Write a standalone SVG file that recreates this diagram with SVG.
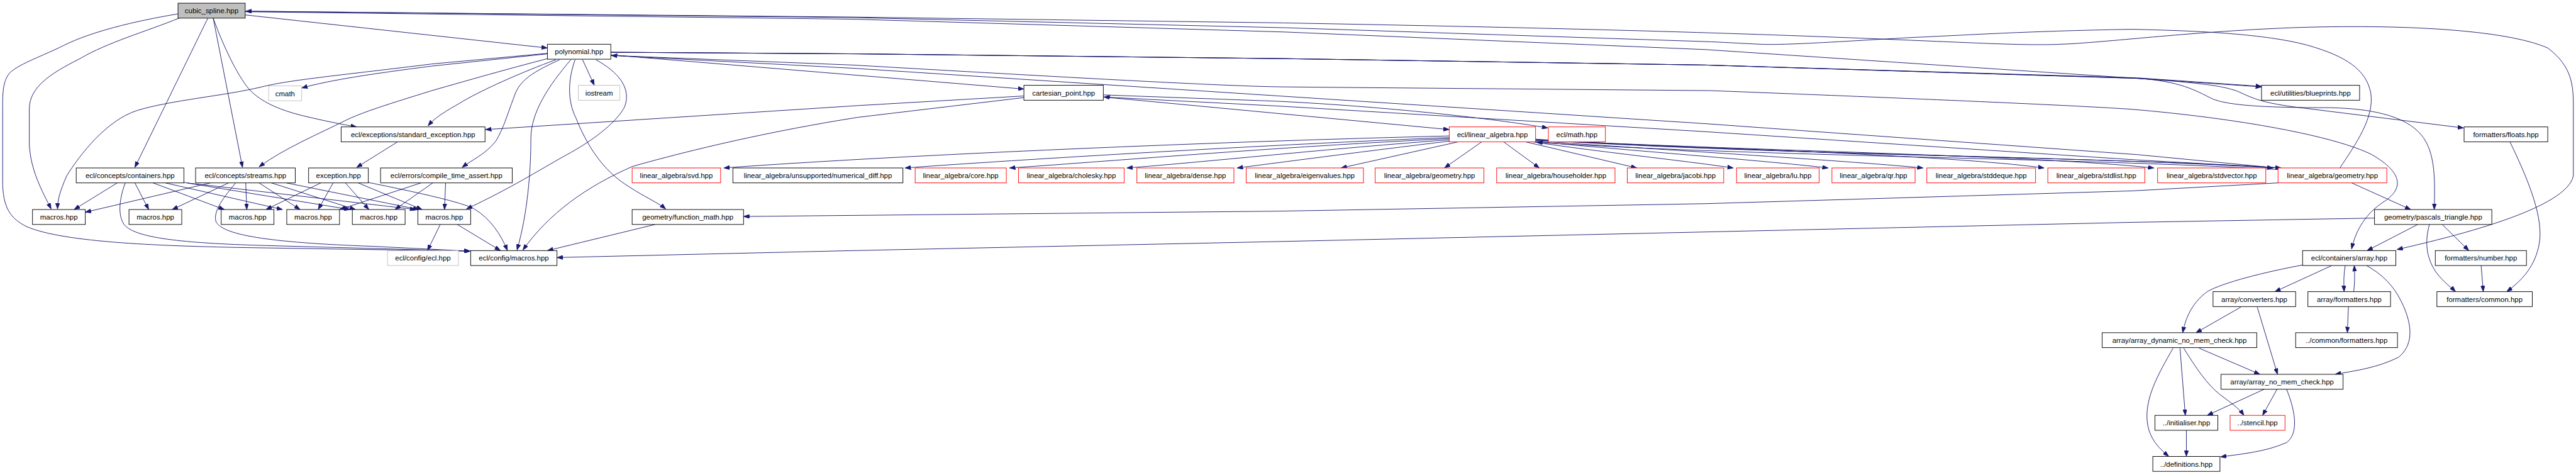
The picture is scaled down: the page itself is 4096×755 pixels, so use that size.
<svg xmlns="http://www.w3.org/2000/svg" width="4096" height="755" viewBox="0 0 4096 755">
<style>
.e{fill:none;stroke:#191970;stroke-width:1.1;marker-end:url(#a)}
.n rect{fill:#fff;stroke:#000;stroke-width:1.1}
.r rect{stroke:#ff0000}
.g rect{stroke:#bfbfbf}
.s rect{fill:#bfbfbf}
text{font-family:"Liberation Sans",Arial,sans-serif;font-size:13.5px;fill:#000;text-anchor:middle}
</style>
<defs>
<marker id="a" markerUnits="userSpaceOnUse" markerWidth="11" markerHeight="8" refX="11" refY="4" orient="auto"><path d="M0,0 L11,4 L0,8 z" fill="#191970" stroke="#191970" stroke-width="0.8"/></marker>
</defs>
<rect width="4096" height="755" fill="#fff"/>
<g transform="scale(0.84751)">
<g id="edges">
<path class="e" d="M460,21 L1600,32 L2410,43 C2900,52 3200,60 3500,72 C3700,80 3800,86 3866,83 C3950,80 4100,60 4300,52 C4500,45 4700,55 4780,90 C4826,125 4828,160 4828,200 L4828,330 C4815,390 4620,440 4497,468"/>
<path class="e" d="M4390,315 C4420,270 4455,220 4448,175 C4440,130 4400,105 4330,85 C4260,66 4150,58 4000,55 C3800,58 3650,68 3593,70 C3450,78 3350,85 3303,83 C3260,81 3230,79 3200,78 L2410,52 L1600,33 L461,21"/>
<path class="e" d="M460,22 L1600,36 L2410,60 L3200,93 L4010,147 L4243,163"/>
<path class="e" d="M460,28 L1027,90"/>
<path class="e" d="M1146,98 L1609,101 L2410,110 L3200,122 L4010,146 L4243,162"/>
<path class="e" d="M1146,98 L1609,101 L2410,110 L3200,122 L4010,147 C4090,152 4120,170 4150,185 C4180,198 4250,202 4372,202 C4470,204 4530,225 4552,267 C4570,300 4568,350 4567,393"/>
<path class="e" d="M1146,98 L1609,101 L2410,110 L3200,122 L4010,147 C4120,155 4170,160 4200,172 C4230,186 4245,192 4300,200 L4622,240"/>
<path class="e" d="M1146,103 L1921,167"/>
<path class="e" d="M1146,104 L1600,122 C2000,145 2300,162 2410,163 L3210,170 C3600,185 3900,198 4000,205 C4200,222 4380,255 4450,290 C4510,325 4510,355 4470,380 C4440,400 4420,430 4412,467"/>
<path class="e" d="M4272,315 L4010,290 L3200,232 L2400,180 L1600,128 L1147,104"/>
<path class="e" d="M4280,315 L4010,300 L3200,247 L2400,199 L2071,182"/>
<path class="e" d="M2070,178 L2400,190 C2600,200 2800,222 2904,240"/>
<path class="e" d="M2070,182 L2400,213 L2719,243"/>
<path class="e" d="M1027,101 L810,124 C700,138 620,150 566,165"/>
<path class="e" d="M1027,100 L810,120 C650,140 540,150 491,163 C420,180 320,188 258,207 C200,225 150,290 125,330 C112,360 108,375 108,392"/>
<path class="e" d="M1027,110 C950,130 880,150 810,170 C730,195 680,210 646,227 C600,250 530,280 486,313"/>
<path class="e" d="M1043,112 C980,135 900,170 860,195 C830,212 815,222 803,236"/>
<path class="e" d="M1050,112 C1000,135 975,150 965,180 C950,220 945,240 930,265 C910,290 885,300 867,314"/>
<path class="e" d="M1118,112 C1160,135 1185,165 1172,200 C1160,225 1120,260 1060,292 C1010,320 960,352 875,392"/>
<path class="e" d="M1071,112 C1030,160 996,210 996,260 C996,320 990,400 970,469"/>
<path class="e" d="M1093,112 L1115,160"/>
<path class="e" d="M1079,112 C1065,150 1065,190 1080,220 C1100,270 1130,320 1180,350 C1210,370 1235,380 1249,392"/>
<path class="e" d="M1921,180 L1610,198 L911,243"/>
<path class="e" d="M1921,183 L1610,220 C1450,245 1300,280 1187,312 C1100,350 1030,400 981,469"/>
<path class="e" d="M746,266 L669,314"/>
<path class="e" d="M400,34 C420,90 450,150 470,170 C490,190 520,205 568,217 C610,227 640,233 669,238"/>
<path class="e" d="M390,34 L253,314"/>
<path class="e" d="M400,34 L455,314"/>
<path class="e" d="M336,34 C280,57 200,80 150,110 C90,140 55,165 55,205 L55,270 C57,320 80,360 96,392"/>
<path class="e" d="M334,26 C250,40 170,60 120,85 C80,105 40,118 20,135 C5,150 5,175 5,200 L5,340 C5,390 20,410 50,425 C120,455 300,462 500,465 L882,471"/>
<path class="e" d="M220,343 L139,393"/>
<path class="e" d="M253,343 L279,393"/>
<path class="e" d="M287,343 L421,393"/>
<path class="e" d="M310,343 L530,393"/>
<path class="e" d="M344,342 L657,393"/>
<path class="e" d="M351,343 L780,393"/>
<path class="e" d="M235,343 C225,370 220,400 232,420 C250,445 330,455 480,460 L882,471"/>
<path class="e" d="M395,343 L160,398"/>
<path class="e" d="M429,343 L323,393"/>
<path class="e" d="M461,343 L463,393"/>
<path class="e" d="M486,343 L563,393"/>
<path class="e" d="M509,343 L667,393"/>
<path class="e" d="M537,343 L786,393"/>
<path class="e" d="M442,343 C420,370 400,395 405,415 C415,440 500,455 700,462 L882,471"/>
<path class="e" d="M602,343 L499,393"/>
<path class="e" d="M625,343 L597,393"/>
<path class="e" d="M648,343 L692,393"/>
<path class="e" d="M672,343 L792,393"/>
<path class="e" d="M690,342 C780,360 870,380 890,392 C920,410 940,440 952,470"/>
<path class="e" d="M790,343 L637,393"/>
<path class="e" d="M812,343 L741,393"/>
<path class="e" d="M836,343 L834,393"/>
<path class="e" d="M826,421 L802,470"/>
<path class="e" d="M858,421 L939,470"/>
<path class="e" d="M1229,421 L1027,470"/>
<path class="e" d="M4455,409 L4000,417 L3200,435 L2400,453 L1600,470 L1045,483"/>
<path class="e" d="M4274,343 L4000,358 L3200,382 L2400,396 L1600,404 L1395,406"/>
<path class="e" d="M4412,343 L4523,393"/>
<path class="e" d="M4536,421 L4441,470"/>
<path class="e" d="M4582,421 L4632,470"/>
<path class="e" d="M4558,421 C4550,450 4550,480 4570,510 C4585,530 4598,538 4607,547"/>
<path class="e" d="M4709,266 C4740,330 4770,400 4765,450 C4760,490 4740,520 4703,547"/>
<path class="e" d="M4655,498 L4659,547"/>
<path class="e" d="M4375,498 L4268,547"/>
<path class="e" d="M4400,498 C4397,515 4397,530 4398,547"/>
<path class="e" d="M4416,547 C4418,530 4418,515 4417,498"/>
<path class="e" d="M4440,498 C4470,515 4490,535 4505,565 C4530,615 4525,650 4500,670 C4460,690 4420,695 4381,702"/>
<path class="e" d="M4320,497 C4250,510 4170,530 4141,547 C4110,570 4100,600 4095,624"/>
<path class="e" d="M4406,575 L4404,624"/>
<path class="e" d="M4204,576 L4120,624"/>
<path class="e" d="M4235,576 L4273,702"/>
<path class="e" d="M4126,653 L4240,702"/>
<path class="e" d="M4090,653 L4100,779"/>
<path class="e" d="M4097,653 C4120,690 4140,720 4165,740 C4185,755 4200,765 4210,779"/>
<path class="e" d="M4077,653 C4050,700 4028,740 4028,780 C4028,820 4050,840 4069,856"/>
<path class="e" d="M4248,730 L4141,779"/>
<path class="e" d="M4272,730 L4245,779"/>
<path class="e" d="M4290,730 C4310,780 4310,815 4290,830 C4250,848 4200,852 4166,857"/>
<path class="e" d="M4102,807 L4102,856"/>
<path class="e" d="M2719,255 C2300,265 1700,290 1358,315"/>
<path class="e" d="M2719,258 C2400,270 1900,300 1698,315"/>
<path class="e" d="M2720,260 C2400,275 2050,305 1894,315"/>
<path class="e" d="M2722,262 C2500,278 2250,305 2114,315"/>
<path class="e" d="M2725,264 C2550,285 2400,305 2321,315"/>
<path class="e" d="M2736,266 L2516,315"/>
<path class="e" d="M2780,266 L2710,315"/>
<path class="e" d="M2821,266 L2888,315"/>
<path class="e" d="M2862,266 L3071,315"/>
<path class="e" d="M2875,266 C3000,285 3150,300 3252,315"/>
<path class="e" d="M2878,265 C3050,282 3300,300 3430,315"/>
<path class="e" d="M2880,264 C3100,280 3450,300 3608,315"/>
<path class="e" d="M2881,263 C3200,278 3650,290 3835,315"/>
<path class="e" d="M2881,262 C3250,282 3800,290 4041,315"/>
<path class="e" d="M2881,262 C3300,290 3900,292 4265,315"/>
<path class="e" d="M2881,261 C3350,292 3950,294 4280,315"/>
<path class="e" d="M4274,318 C3900,296 3300,294 2883,267"/>
</g>
<g id="n_cubic_spline" class="n s"><rect x="334" y="6" width="126" height="28"/><text x="397" y="25">cubic_spline.hpp</text></g>
<g id="n_polynomial" class="n"><rect x="1027" y="83" width="119" height="28"/><text x="1086.5" y="102">polynomial.hpp</text></g>
<g id="n_cmath" class="n g"><rect x="504" y="161" width="62" height="28"/><text x="535" y="180">cmath</text></g>
<g id="n_iostream" class="n g"><rect x="1085" y="160" width="78" height="28"/><text x="1124" y="179">iostream</text></g>
<g id="n_cartesian_point" class="n"><rect x="1921" y="160" width="149" height="28"/><text x="1995.5" y="179">cartesian_point.hpp</text></g>
<g id="n_standard_exception" class="n"><rect x="640" y="238" width="270" height="28"/><text x="775" y="257">ecl/exceptions/standard_exception.hpp</text></g>
<g id="n_ecl_linear_algebra" class="n r"><rect x="2719" y="238" width="162" height="28"/><text x="2800" y="257">ecl/linear_algebra.hpp</text></g>
<g id="n_ecl_math" class="n r"><rect x="2905" y="238" width="107" height="28"/><text x="2958.5" y="257">ecl/math.hpp</text></g>
<g id="n_blueprints" class="n"><rect x="4243" y="160" width="184" height="28"/><text x="4335" y="179">ecl/utilities/blueprints.hpp</text></g>
<g id="n_floats" class="n"><rect x="4623" y="238" width="157" height="28"/><text x="4701.5" y="257">formatters/floats.hpp</text></g>
<g id="n_containers" class="n"><rect x="143" y="315" width="202" height="28"/><text x="244" y="334">ecl/concepts/containers.hpp</text></g>
<g id="n_streams" class="n"><rect x="367" y="315" width="187" height="28"/><text x="460.5" y="334">ecl/concepts/streams.hpp</text></g>
<g id="n_exception" class="n"><rect x="579" y="315" width="112" height="28"/><text x="635" y="334">exception.hpp</text></g>
<g id="n_compile_time_assert" class="n"><rect x="714" y="315" width="247" height="28"/><text x="837.5" y="334">ecl/errors/compile_time_assert.hpp</text></g>
<g id="n_svd" class="n r"><rect x="1186" y="315" width="166" height="28"/><text x="1269" y="334">linear_algebra/svd.hpp</text></g>
<g id="n_numerical_diff" class="n"><rect x="1375" y="315" width="319" height="28"/><text x="1534.5" y="334">linear_algebra/unsupported/numerical_diff.hpp</text></g>
<g id="n_core" class="n r"><rect x="1717" y="315" width="171" height="28"/><text x="1802.5" y="334">linear_algebra/core.hpp</text></g>
<g id="n_cholesky" class="n r"><rect x="1911" y="315" width="198" height="28"/><text x="2010" y="334">linear_algebra/cholesky.hpp</text></g>
<g id="n_dense" class="n r"><rect x="2133" y="315" width="182" height="28"/><text x="2224" y="334">linear_algebra/dense.hpp</text></g>
<g id="n_eigenvalues" class="n r"><rect x="2338" y="315" width="220" height="28"/><text x="2448" y="334">linear_algebra/eigenvalues.hpp</text></g>
<g id="n_geometry1" class="n r"><rect x="2580" y="315" width="204" height="28"/><text x="2682" y="334">linear_algebra/geometry.hpp</text></g>
<g id="n_householder" class="n r"><rect x="2808" y="315" width="222" height="28"/><text x="2919" y="334">linear_algebra/householder.hpp</text></g>
<g id="n_jacobi" class="n r"><rect x="3053" y="315" width="181" height="28"/><text x="3143.5" y="334">linear_algebra/jacobi.hpp</text></g>
<g id="n_lu" class="n r"><rect x="3258" y="315" width="155" height="28"/><text x="3335.5" y="334">linear_algebra/lu.hpp</text></g>
<g id="n_qr" class="n r"><rect x="3437" y="315" width="156" height="28"/><text x="3515" y="334">linear_algebra/qr.hpp</text></g>
<g id="n_stddeque" class="n r"><rect x="3615" y="315" width="204" height="28"/><text x="3717" y="334">linear_algebra/stddeque.hpp</text></g>
<g id="n_stdlist" class="n r"><rect x="3842" y="315" width="182" height="28"/><text x="3933" y="334">linear_algebra/stdlist.hpp</text></g>
<g id="n_stdvector" class="n r"><rect x="4048" y="315" width="203" height="28"/><text x="4149.5" y="334">linear_algebra/stdvector.hpp</text></g>
<g id="n_geometry2" class="n r"><rect x="4274" y="315" width="204" height="28"/><text x="4376" y="334">linear_algebra/geometry.hpp</text></g>
<g id="n_macros1" class="n"><rect x="61" y="393" width="99" height="28"/><text x="110.5" y="412">macros.hpp</text></g>
<g id="n_macros2" class="n"><rect x="242" y="393" width="99" height="28"/><text x="291.5" y="412">macros.hpp</text></g>
<g id="n_macros3" class="n"><rect x="415" y="393" width="99" height="28"/><text x="464.5" y="412">macros.hpp</text></g>
<g id="n_macros4" class="n"><rect x="538" y="393" width="99" height="28"/><text x="587.5" y="412">macros.hpp</text></g>
<g id="n_macros5" class="n"><rect x="661" y="393" width="99" height="28"/><text x="710.5" y="412">macros.hpp</text></g>
<g id="n_macros6" class="n"><rect x="784" y="393" width="99" height="28"/><text x="833.5" y="412">macros.hpp</text></g>
<g id="n_function_math" class="n"><rect x="1186" y="393" width="209" height="28"/><text x="1290.5" y="412">geometry/function_math.hpp</text></g>
<g id="n_pascals_triangle" class="n"><rect x="4455" y="393" width="220" height="28"/><text x="4565" y="412">geometry/pascals_triangle.hpp</text></g>
<g id="n_config_ecl" class="n g"><rect x="727" y="470" width="133" height="28"/><text x="793.5" y="489">ecl/config/ecl.hpp</text></g>
<g id="n_config_macros" class="n"><rect x="883" y="470" width="162" height="28"/><text x="964" y="489">ecl/config/macros.hpp</text></g>
<g id="n_array" class="n"><rect x="4320" y="470" width="175" height="28"/><text x="4407.5" y="489">ecl/containers/array.hpp</text></g>
<g id="n_number" class="n"><rect x="4569" y="470" width="171" height="28"/><text x="4654.5" y="489">formatters/number.hpp</text></g>
<g id="n_converters" class="n"><rect x="4152" y="547" width="155" height="28"/><text x="4229.5" y="566">array/converters.hpp</text></g>
<g id="n_array_formatters" class="n"><rect x="4330" y="547" width="155" height="28"/><text x="4407.5" y="566">array/formatters.hpp</text></g>
<g id="n_common" class="n"><rect x="4572" y="547" width="179" height="28"/><text x="4661.5" y="566">formatters/common.hpp</text></g>
<g id="n_array_dynamic" class="n"><rect x="3944" y="624" width="290" height="28"/><text x="4089" y="643">array/array_dynamic_no_mem_check.hpp</text></g>
<g id="n_common_formatters" class="n"><rect x="4307" y="624" width="191" height="28"/><text x="4402.5" y="643">../common/formatters.hpp</text></g>
<g id="n_array_no_mem_check" class="n"><rect x="4167" y="702" width="229" height="28"/><text x="4281.5" y="721">array/array_no_mem_check.hpp</text></g>
<g id="n_initialiser" class="n"><rect x="4043" y="779" width="118" height="28"/><text x="4102" y="798">../initialiser.hpp</text></g>
<g id="n_stencil" class="n r"><rect x="4184" y="779" width="103" height="28"/><text x="4235.5" y="798">../stencil.hpp</text></g>
<g id="n_definitions" class="n"><rect x="4039" y="856" width="126" height="28"/><text x="4102" y="875">../definitions.hpp</text></g>
</g>
</svg>
